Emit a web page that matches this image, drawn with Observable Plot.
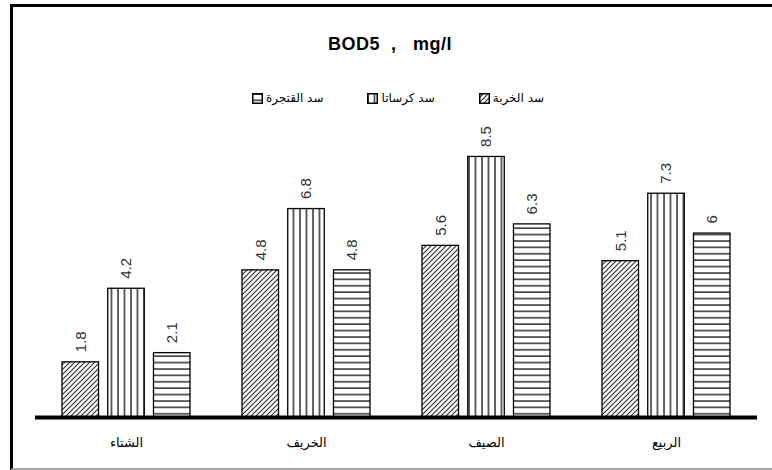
<!DOCTYPE html>
<html>
<head>
<meta charset="utf-8">
<script src="https://cdn.jsdelivr.net/npm/d3@7"></script>
<script src="https://cdn.jsdelivr.net/npm/@observablehq/plot@0.6"></script>
<style>
  html, body { margin: 0; padding: 0; background: #fff; }
  body { width: 772px; height: 470px; position: relative; overflow: hidden; font-family: "Liberation Sans", Arial, sans-serif; }
  #frame { position: absolute; left: 10px; top: 4px; width: 780px; height: 461px; border-top: 3px solid #000; border-left: 3px solid #000; border-bottom: 2px solid #a8a8a8; }
  #title { position: absolute; left: 0; width: 780px; top: 34px; text-align: center; font-weight: bold; font-size: 18px; letter-spacing: 0.5px; white-space: pre; color: #000; }
  #legend { position: absolute; top: 91px; left: 0; width: 772px; display: flex; justify-content: center; gap: 44px; direction: ltr; font-family: "DejaVu Sans", sans-serif; font-size: 12px; color: #000; padding-left: 24px; box-sizing: border-box; }
  .item { display: flex; align-items: center; gap: 3px; }
  .item svg { display: block; }
  #chart { position: absolute; left: 0; top: 112px; }
</style>
</head>
<body>
<svg width="0" height="0" style="position:absolute">
  <defs>
    <pattern id="pDiag" patternUnits="userSpaceOnUse" width="5" height="5">
      <rect width="5" height="5" fill="#fff"/>
      <path d="M-1,1 L1,-1 M0,5 L5,0 M4,6 L6,4" stroke="#333" stroke-width="1.2"/>
    </pattern>
    <pattern id="pVert" patternUnits="userSpaceOnUse" width="6.5" height="6">
      <rect width="6.5" height="6" fill="#fff"/>
      <path d="M1,0 L1,6" stroke="#111" stroke-width="1.3"/>
    </pattern>
    <pattern id="pHoriz" patternUnits="userSpaceOnUse" width="6" height="6.4">
      <rect width="6" height="6.4" fill="#fff"/>
      <path d="M0,1 L6,1" stroke="#111" stroke-width="1.3"/>
    </pattern>
  </defs>
</svg>
<div id="frame"></div>
<div id="title">BOD5  ,   mg/l</div>
<div id="legend"></div>
<div id="chart"></div>
<script>
// ---- data ----
const seasons = ["الشتاء", "الخريف", "الصيف", "الربيع"];
const seriesNames = ["سد الخربة", "سد كرساتا", "سد القتجرة"];
const khirbaValues = [1.8, 4.8, 5.6, 5.1];
const kirsataValues = [4.2, 6.8, 8.5, 7.3];
const qatjaraValues = [2.1, 4.8, 6.3, 6];
const patterns = ["url(#pDiag)", "url(#pVert)", "url(#pHoriz)"];

const seriesValues = [khirbaValues, kirsataValues, qatjaraValues];

// ---- layout ----
const W = 772, H = 350;
const mL = 35, mR = 15;
const pIn = 0.29, pOut = 0.14;
const step = (W - mL - mR) / (seasons.length - pIn + 2 * pOut);
const bw = step * (1 - pIn);
const barW = 37;
const gap = (bw - 3 * barW) / 2;

const marks = [];
seriesValues.forEach((vals, i) => {
  const data = seasons.map((s, j) => ({season: s, value: vals[j], series: seriesNames[i]}));
  const left = i * (barW + gap);
  const right = bw - left - barW;
  marks.push(Plot.barY(data, {
    x: "season", y: "value",
    fill: patterns[i], stroke: "#000", strokeWidth: 1.3,
    insetLeft: left, insetRight: right
  }));
  marks.push(Plot.text(data, {
    x: "season", y: "value", text: d => String(d.value),
    rotate: -90, textAnchor: "start", dx: left + barW / 2 - bw / 2, dy: -10,
    fontSize: 15, fill: "#333", fontFamily: "Liberation Sans, Arial, sans-serif"
  }));
});
marks.push(Plot.ruleY([0], {stroke: "#000", strokeWidth: 4}));
marks.push(Plot.axisX({tickSize: 0, tickPadding: 20, fontSize: 13, fontFamily: "DejaVu Sans, sans-serif", label: null}));

const chart = Plot.plot({
  width: W, height: H,
  marginLeft: mL, marginRight: mR, marginTop: 0, marginBottom: 45,
  x: {domain: seasons, paddingInner: pIn, paddingOuter: pOut, align: 0.5},
  y: {domain: [0, 9.95], axis: null},
  style: {background: "transparent", color: "#000", overflow: "visible"},
  marks
});
document.getElementById("chart").appendChild(chart);

// ---- legend (left to right, swatch left of text) ----
const legend = document.getElementById("legend");
[2, 1, 0].forEach(i => {
  const item = document.createElement("div");
  item.className = "item";
  const ns = "http://www.w3.org/2000/svg";
  const sw = document.createElementNS(ns, "svg");
  sw.setAttribute("width", 11); sw.setAttribute("height", 11);
  const r = document.createElementNS(ns, "rect");
  r.setAttribute("x", 0.75); r.setAttribute("y", 0.75);
  r.setAttribute("width", 9.5); r.setAttribute("height", 9.5);
  r.setAttribute("fill", patterns[i]); r.setAttribute("stroke", "#000"); r.setAttribute("stroke-width", 1.5);
  sw.appendChild(r);
  const t = document.createElement("span");
  t.textContent = seriesNames[i];
  t.dir = "rtl";
  item.appendChild(sw); item.appendChild(t);
  legend.appendChild(item);
});
</script>
</body>
</html>
